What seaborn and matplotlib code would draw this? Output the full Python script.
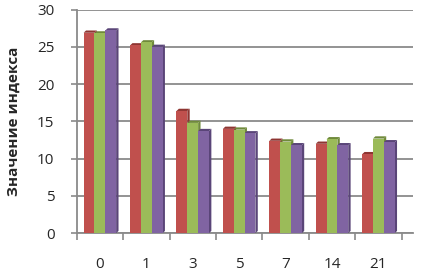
import numpy as np
import pandas as pd
import matplotlib.pyplot as plt
import seaborn as sns
from matplotlib.patches import Polygon

days = ['0', '1', '3', '5', '7', '14', '21']
series_a = [26.9, 25.2, 16.4, 14.0, 12.4, 12.0, 10.6]
series_b = [26.8, 25.6, 14.8, 13.9, 12.3, 12.6, 12.7]
series_c = [27.2, 25.0, 13.7, 13.4, 11.8, 11.8, 12.2]
colors = ['#C0504D', '#9BBB59', '#8064A2']
dark = ['#8E3532', '#6F8A3A', '#5A4578']

df = pd.DataFrame({
    'day': days * 3,
    'value': series_a + series_b + series_c,
    'series': ['a'] * 7 + ['b'] * 7 + ['c'] * 7,
})

sns.set_style('white')
plt.rcParams['font.family'] = ['Open Sans', 'DejaVu Sans']

fig = plt.figure(figsize=(4.26, 2.75), dpi=100)
ax = fig.add_axes([0.18, 0.152, 0.79, 0.813])

sns.barplot(data=df, x='day', y='value', hue='series', palette=colors,
            width=0.7, saturation=1, linewidth=0, ax=ax, legend=False, zorder=3)

# fake 3d side face, taken from each bar's own geometry
bars = list(ax.patches)
for i, p in enumerate(bars):
    x0 = p.get_x()
    w, h = p.get_width(), p.get_height()
    d = w * 0.22
    dz = 0.3
    side = Polygon([(x0 + w, 0), (x0 + w + d, dz), (x0 + w + d, h + dz), (x0 + w, h)],
                   closed=True, facecolor=dark[i // 7], edgecolor='none', zorder=2.9)
    top = Polygon([(x0, h), (x0 + d, h + dz), (x0 + w + d, h + dz), (x0 + w, h)],
                  closed=True, facecolor=dark[i // 7], edgecolor='none', zorder=2.9)
    ax.add_patch(side)
    ax.add_patch(top)

ax.set_ylim(0, 30)
ax.set_xlim(-0.5, 6.75)
ax.set_yticks(range(0, 31, 5))
ax.set_xticks(np.arange(-0.5, 7, 1), minor=True)
ax.yaxis.grid(True, color='#8A8A8A', linewidth=1.3, zorder=0)
ax.set_xlabel('')
ax.set_ylabel('Значение индекса', fontsize=11, fontweight='bold', labelpad=12)
ax.tick_params(axis='y', labelsize=11, length=4, width=1.2, color='#8A8A8A', pad=12, left=True)
ax.tick_params(axis='x', which='major', labelsize=11, length=0, pad=17)
ax.tick_params(axis='x', which='minor', length=5, width=1.2, color='#8A8A8A', bottom=True)
for s in ['top', 'right']:
    ax.spines[s].set_visible(False)
for s in ['left', 'bottom']:
    ax.spines[s].set_color('#8A8A8A')
    ax.spines[s].set_linewidth(1.3)

fig.savefig('out.png', dpi=100)
